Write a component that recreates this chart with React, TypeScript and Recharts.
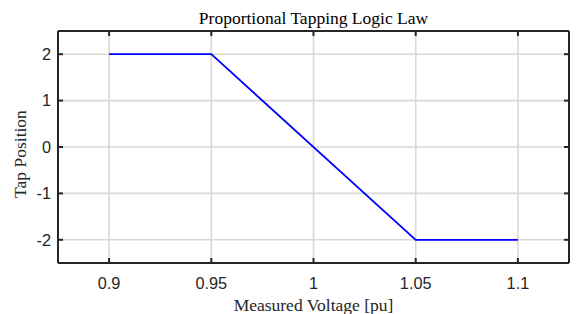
import React from 'react';
import { LineChart, Line, XAxis, YAxis, CartesianGrid, Label } from 'recharts';

const voltage = [0.9, 0.95, 1.05, 1.1];
const tapPosition = [2, 2, -2, -2];
const xTicks = [0.9, 0.95, 1, 1.05, 1.1];
const yTicks = [-2, -1, 0, 1, 2];
const xDomain = [0.875, 1.125];
const yDomain = [-2.5, 2.5];
const title = 'Proportional Tapping Logic Law';
const xLabel = 'Measured Voltage [pu]';
const yLabel = 'Tap Position';

const data = voltage.map((v, i) => ({ v, t: tapPosition[i] }));

const AXIS = '#262626';
const SERIF = '"Liberation Serif", "Times New Roman", serif';
const SANS = '"Liberation Sans", Arial, sans-serif';

const axisLine = { stroke: AXIS, strokeWidth: 2 };
const tickLine = { stroke: AXIS, strokeWidth: 2 };
const tickStyle = { fill: AXIS, fontSize: 16.3, fontFamily: SANS };

const TitleContent = (props: any) => {
  const vb = props.viewBox;
  return (
    <text x={vb.x + vb.width / 2} y={vb.y - 6} textAnchor="middle" fontFamily={SERIF} fontSize={17.5} fill="#000">
      {title}
    </text>
  );
};

const XLabelContent = (props: any) => {
  const vb = props.viewBox;
  return (
    <text x={vb.x + vb.width / 2} y={vb.y + 48} textAnchor="middle" fontFamily={SERIF} fontSize={17.5} fill="#262626">
      {xLabel}
    </text>
  );
};

const YLabelContent = (props: any) => {
  const vb = props.viewBox;
  const cx = vb.x + 26;
  const cy = vb.y + vb.height / 2 + 7;
  return (
    <text x={cx} y={cy} transform={`rotate(-90 ${cx} ${cy})`} textAnchor="middle" fontFamily={SERIF} fontSize={17.5} fill="#262626">
      {yLabel}
    </text>
  );
};

const Empty = () => <g />;

export default function App() {
  return (
    <div style={{ position: 'absolute', left: 0, top: 0, width: 578, height: 314, background: '#fff' }}>
      <LineChart width={578} height={314} data={data} margin={{ top: 30, right: 8, left: 0, bottom: 11 }}>
        <CartesianGrid stroke="#d8d8d8" strokeWidth={1.6} xAxisId="b" yAxisId="l" />
        <XAxis
          xAxisId="b"
          dataKey="v"
          type="number"
          domain={xDomain}
          ticks={xTicks}
          allowDataOverflow
          height={40}
          axisLine={axisLine}
          tickLine={tickLine}
          tickSize={-5}
          tickMargin={19}
          tick={tickStyle}
          interval={0}
        >
          <Label content={XLabelContent} />
        </XAxis>
        <XAxis
          xAxisId="t"
          orientation="top"
          type="number"
          dataKey="v"
          domain={xDomain}
          ticks={xTicks}
          allowDataOverflow
          height={1}
          axisLine={axisLine}
          tickLine={tickLine}
          tickSize={-5}
          tick={Empty}
          interval={0}
        >
          <Label content={TitleContent} />
        </XAxis>
        <YAxis
          yAxisId="l"
          type="number"
          domain={yDomain}
          ticks={yTicks}
          allowDataOverflow
          width={58}
          axisLine={axisLine}
          tickLine={tickLine}
          tickSize={-5}
          tickMargin={12}
          tick={tickStyle}
          interval={0}
        >
          <Label content={YLabelContent} />
        </YAxis>
        <YAxis
          yAxisId="r"
          orientation="right"
          type="number"
          domain={yDomain}
          ticks={yTicks}
          allowDataOverflow
          width={1}
          axisLine={axisLine}
          tickLine={tickLine}
          tickSize={-5}
          tick={Empty}
          interval={0}
        />
        <Line
          xAxisId="b"
          yAxisId="l"
          dataKey="t"
          stroke="#0000ff"
          strokeWidth={1.8}
          dot={false}
          isAnimationActive={false}
          type="linear"
        />
      </LineChart>
    </div>
  );
}
